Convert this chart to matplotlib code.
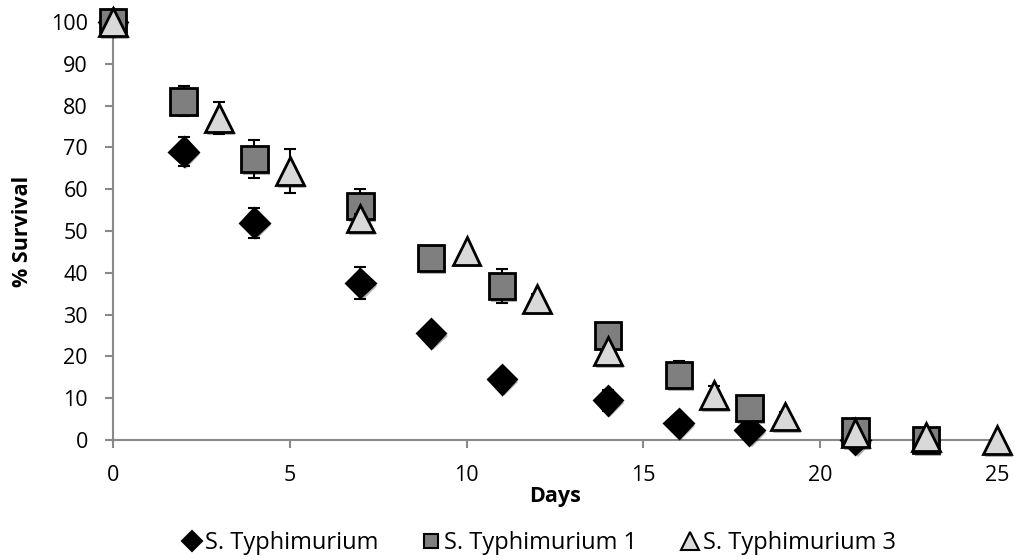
import matplotlib
matplotlib.use("Agg")
import matplotlib.pyplot as plt
import matplotlib.patheffects as pe

plt.rcParams['font.family'] = ['Open Sans', 'DejaVu Sans']

# Data
days_a = [0, 2, 4, 7, 9, 11, 14, 16, 18, 21]
surv_a = [100, 69, 52, 37.5, 25.5, 14.5, 9.5, 4, 2.3, 0]
err_a = [0, 3.5, 3.6, 3.8, 0.5, 1.2, 2.5, 0.7, 0.3, 0]

days_b = [0, 2, 4, 7, 9, 11, 14, 16, 18, 21, 23]
surv_b = [100, 81, 67.2, 56, 43.5, 36.8, 25, 15.6, 7.7, 2, 0]
err_b = [0, 3.6, 4.6, 4, 0.5, 4, 1.5, 3.2, 0.5, 0, 0]

days_c = [0, 3, 5, 7, 10, 12, 14, 17, 19, 21, 23, 25]
surv_c = [100, 77, 64.3, 53, 45.3, 33.8, 21.3, 10.7, 5.6, 1.7, 0.7, 0]
err_c = [0, 3.9, 5.2, 1, 0.5, 1.2, 1, 2.3, 1, 0.3, 0.3, 0]

labels = ['S. Typhimurium', 'S. Typhimurium 1', 'S. Typhimurium 3']

fig = plt.figure(figsize=(10.15, 5.6), dpi=100)
ax = fig.add_axes([0.1113, 0.2143, 0.8709, 0.7464])

shadow = [pe.SimplePatchShadow(offset=(1.5, -2), shadow_rgbFace='k', alpha=0.3), pe.Normal()]

# marker, plot size, legend size, face colour
series = [
    (days_a, surv_a, err_a, 'D', 14.5, 9.7, 'black'),
    (days_b, surv_b, err_b, 's', 19, 10, '#7f7f7f'),
    (days_c, surv_c, err_c, '^', 20, 13, '#d9d9d9'),
]

handles = []
z = 3
for (x, y, e, m, ms, lms, fc), lab in zip(series, labels):
    ax.errorbar(x, y, yerr=e, fmt='none', ecolor='black', elinewidth=1.5,
                capsize=4.5, capthick=1.5, zorder=z, clip_on=False)
    ln, = ax.plot(x, y, linestyle='none', marker=m, markersize=ms,
                  markerfacecolor=fc, markeredgecolor='black', markeredgewidth=2,
                  label=lab, zorder=z + 0.5, clip_on=False, path_effects=shadow)
    handles.append(ln)
    z += 1

ax.set_xlim(0, 25)
ax.set_ylim(0, 100)
ax.set_xticks(range(0, 26, 5))
ax.set_yticks(range(0, 101, 10))

for s in ['top', 'right']:
    ax.spines[s].set_visible(False)
for s in ['left', 'bottom']:
    ax.spines[s].set_color('#898989')
    ax.spines[s].set_linewidth(1.5)
ax.tick_params(axis='both', colors='#898989', length=6, width=1.5,
               labelsize=15.5, labelcolor='black', pad=12)

ax.set_xlabel('Days', fontsize=15.5, fontweight='bold')
ax.xaxis.set_label_coords(0.5, -0.11)
ax.set_ylabel('% Survival', fontsize=15.5, fontweight='bold')
ax.yaxis.set_label_coords(-0.09, 0.5)

leg = fig.legend(handles=handles, loc='center', bbox_to_anchor=(0.532, 0.03),
                 ncol=3, frameon=False, fontsize=17,
                 handlelength=0.7, handletextpad=0.2, columnspacing=1.9)
for h, s in zip(leg.legend_handles, series):
    h.set_path_effects([])
    h.set_markersize(s[5])
    h.set_markeredgewidth(1.5)

fig.savefig('out.png', dpi=100)
